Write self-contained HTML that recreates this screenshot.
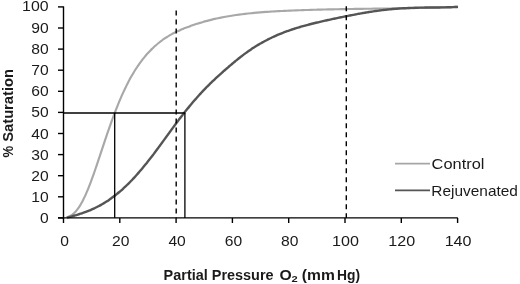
<!DOCTYPE html><html><head><meta charset="utf-8"><title>Oxygen dissociation curve</title>
<style>html,body{margin:0;padding:0;background:#fff}svg{display:block}text{font-family:"Liberation Sans",sans-serif;fill:#1a1a1a}</style></head><body>
<svg width="520" height="284" viewBox="0 0 520 284">
<rect width="520" height="284" fill="#fff"/>
<path d="M66.50 217.40 C66.75 217.33 67.50 217.14 68.00 216.96 C68.50 216.79 69.00 216.58 69.50 216.34 C70.00 216.10 70.50 215.83 71.00 215.52 C71.50 215.21 72.00 214.87 72.50 214.48 C73.00 214.09 73.50 213.67 74.00 213.21 C74.50 212.74 75.00 212.23 75.50 211.68 C76.00 211.14 76.50 210.54 77.00 209.91 C77.50 209.27 78.00 208.60 78.50 207.87 C79.00 207.15 79.50 206.39 80.00 205.58 C80.50 204.77 81.00 203.92 81.50 203.02 C82.00 202.13 82.50 201.19 83.00 200.21 C83.50 199.24 84.00 198.22 84.50 197.16 C85.00 196.10 85.50 195.00 86.00 193.87 C86.50 192.74 87.00 191.57 87.50 190.37 C88.00 189.17 88.50 187.93 89.00 186.66 C89.50 185.40 90.00 184.10 90.50 182.78 C91.00 181.46 91.50 180.10 92.00 178.73 C92.50 177.36 93.00 175.97 93.50 174.55 C94.00 173.14 94.50 171.70 95.00 170.26 C95.50 168.81 96.00 167.34 96.50 165.87 C97.00 164.40 97.50 162.91 98.00 161.42 C98.50 159.93 99.00 158.42 99.50 156.92 C100.00 155.41 100.50 153.90 101.00 152.40 C101.50 150.89 102.00 149.38 102.50 147.87 C103.00 146.37 103.50 144.86 104.00 143.36 C104.50 141.86 105.00 140.37 105.50 138.89 C106.00 137.40 106.50 135.92 107.00 134.46 C107.50 132.99 108.00 131.54 108.50 130.10 C109.00 128.65 109.50 127.22 110.00 125.81 C110.50 124.39 111.00 122.99 111.50 121.61 C112.00 120.22 112.50 118.85 113.00 117.50 C113.50 116.15 114.00 114.81 114.50 113.50 C115.00 112.18 115.50 110.88 116.00 109.60 C116.50 108.32 117.00 107.06 117.50 105.82 C118.00 104.58 118.50 103.35 119.00 102.15 C119.50 100.95 120.00 99.77 120.50 98.60 C121.00 97.44 121.50 96.30 122.00 95.17 C122.50 94.05 123.00 92.95 123.50 91.86 C124.00 90.78 124.50 89.72 125.00 88.67 C125.50 87.63 126.00 86.61 126.50 85.60 C127.00 84.60 127.50 83.61 128.00 82.65 C128.50 81.68 129.00 80.74 129.50 79.81 C130.00 78.88 130.50 77.97 131.00 77.08 C131.50 76.19 132.00 75.32 132.50 74.46 C133.00 73.61 133.50 72.77 134.00 71.95 C134.50 71.13 135.00 70.33 135.50 69.54 C136.00 68.76 136.50 67.99 137.00 67.23 C137.50 66.48 138.00 65.74 138.50 65.02 C139.00 64.30 139.50 63.59 140.00 62.90 C140.50 62.21 141.00 61.53 141.50 60.87 C142.00 60.21 142.50 59.56 143.00 58.93 C143.50 58.29 144.00 57.67 144.50 57.06 C145.00 56.46 145.50 55.86 146.00 55.28 C146.50 54.70 147.00 54.13 147.50 53.58 C148.00 53.02 148.50 52.47 149.00 51.94 C149.50 51.41 150.00 50.89 150.50 50.38 C151.00 49.87 151.50 49.37 152.00 48.88 C152.50 48.39 153.00 47.91 153.50 47.44 C154.00 46.98 154.50 46.52 155.00 46.07 C155.50 45.62 156.00 45.18 156.50 44.75 C157.00 44.32 157.50 43.90 158.00 43.49 C158.50 43.08 159.00 42.68 159.50 42.28 C160.00 41.89 160.50 41.50 161.00 41.12 C161.50 40.75 162.00 40.38 162.50 40.01 C163.00 39.65 163.50 39.30 164.00 38.95 C164.50 38.60 165.00 38.26 165.50 37.94 C166.00 37.61 166.50 37.29 167.00 36.98 C167.50 36.67 168.00 36.36 168.50 36.07 C169.00 35.77 169.50 35.48 170.00 35.19 C170.50 34.91 171.00 34.63 171.50 34.36 C172.00 34.09 172.50 33.82 173.00 33.56 C173.50 33.30 174.00 33.04 174.50 32.79 C175.00 32.54 175.50 32.29 176.00 32.05 C176.50 31.81 177.00 31.57 177.50 31.34 C178.00 31.10 178.50 30.87 179.00 30.65 C179.50 30.42 180.00 30.20 180.50 29.98 C181.00 29.76 181.50 29.55 182.00 29.34 C182.50 29.13 183.00 28.92 183.50 28.72 C184.00 28.51 184.50 28.31 185.00 28.11 C185.50 27.91 186.00 27.72 186.50 27.53 C187.00 27.33 187.50 27.14 188.00 26.96 C188.50 26.77 189.00 26.58 189.50 26.40 C190.00 26.22 190.50 26.04 191.00 25.86 C191.50 25.68 192.00 25.51 192.50 25.34 C193.00 25.16 193.50 24.99 194.00 24.82 C194.50 24.66 195.00 24.49 195.50 24.33 C196.00 24.16 196.50 24.00 197.00 23.84 C197.50 23.68 198.00 23.52 198.50 23.36 C199.00 23.21 199.25 23.13 200.00 22.90 C200.75 22.67 202.00 22.29 203.00 22.00 C204.00 21.71 205.00 21.42 206.00 21.15 C207.00 20.87 208.00 20.61 209.00 20.35 C210.00 20.10 211.00 19.85 212.00 19.61 C213.00 19.36 214.00 19.13 215.00 18.91 C216.00 18.68 217.00 18.46 218.00 18.25 C219.00 18.04 220.00 17.83 221.00 17.63 C222.00 17.43 223.00 17.24 224.00 17.05 C225.00 16.86 226.00 16.68 227.00 16.50 C228.00 16.33 229.00 16.16 230.00 15.99 C231.00 15.82 232.00 15.66 233.00 15.51 C234.00 15.35 235.00 15.20 236.00 15.06 C237.00 14.91 238.00 14.77 239.00 14.63 C240.00 14.50 241.00 14.37 242.00 14.24 C243.00 14.11 244.00 13.99 245.00 13.87 C246.00 13.75 247.00 13.64 248.00 13.53 C249.00 13.42 250.00 13.31 251.00 13.21 C252.00 13.10 253.00 13.00 254.00 12.91 C255.00 12.81 256.00 12.72 257.00 12.63 C258.00 12.54 259.00 12.46 260.00 12.38 C261.00 12.29 262.00 12.21 263.00 12.14 C264.00 12.06 265.00 11.99 266.00 11.92 C267.00 11.85 268.00 11.78 269.00 11.71 C270.00 11.65 271.00 11.58 272.00 11.52 C273.00 11.46 274.00 11.40 275.00 11.34 C276.00 11.29 277.00 11.23 278.00 11.18 C279.00 11.13 280.00 11.07 281.00 11.02 C282.00 10.97 283.00 10.93 284.00 10.88 C285.00 10.83 286.00 10.79 287.00 10.74 C288.00 10.70 289.00 10.66 290.00 10.61 C291.00 10.57 292.00 10.53 293.00 10.49 C294.00 10.45 295.00 10.41 296.00 10.37 C297.00 10.33 298.00 10.29 299.00 10.26 C300.00 10.22 301.00 10.19 302.00 10.15 C303.00 10.12 304.00 10.08 305.00 10.05 C306.00 10.02 307.00 9.98 308.00 9.95 C309.00 9.92 310.00 9.89 311.00 9.86 C312.00 9.83 313.00 9.80 314.00 9.77 C315.00 9.75 316.00 9.72 317.00 9.69 C318.00 9.67 319.00 9.64 320.00 9.61 C321.00 9.59 322.00 9.56 323.00 9.54 C324.00 9.52 325.00 9.49 326.00 9.47 C327.00 9.45 328.00 9.42 329.00 9.40 C330.00 9.38 331.00 9.36 332.00 9.34 C333.00 9.32 334.00 9.30 335.00 9.28 C336.00 9.26 337.00 9.24 338.00 9.22 C339.00 9.20 340.00 9.18 341.00 9.17 C342.00 9.15 343.00 9.13 344.00 9.11 C345.00 9.10 346.00 9.08 347.00 9.06 C348.00 9.05 349.00 9.03 350.00 9.02 C351.00 9.00 352.00 8.98 353.00 8.97 C354.00 8.95 355.00 8.94 356.00 8.92 C357.00 8.91 358.00 8.90 359.00 8.88 C360.00 8.87 361.00 8.85 362.00 8.84 C363.00 8.82 364.00 8.81 365.00 8.80 C366.00 8.78 367.00 8.77 368.00 8.76 C369.00 8.74 370.00 8.73 371.00 8.72 C372.00 8.70 373.00 8.69 374.00 8.68 C375.00 8.66 376.00 8.65 377.00 8.64 C378.00 8.62 379.00 8.61 380.00 8.60 C381.00 8.59 382.00 8.57 383.00 8.56 C384.00 8.54 385.00 8.53 386.00 8.52 C387.00 8.50 388.00 8.49 389.00 8.48 C390.00 8.46 391.00 8.45 392.00 8.43 C393.00 8.42 394.00 8.41 395.00 8.39 C396.00 8.38 397.00 8.36 398.00 8.35 C399.00 8.33 400.00 8.31 401.00 8.30 C402.00 8.28 403.00 8.27 404.00 8.25 C405.00 8.23 406.00 8.22 407.00 8.20 C408.00 8.18 409.00 8.16 410.00 8.15 C411.00 8.13 412.00 8.11 413.00 8.09 C414.00 8.07 415.00 8.05 416.00 8.03 C417.00 8.01 418.00 7.99 419.00 7.97 C420.00 7.95 421.00 7.93 422.00 7.91 C423.00 7.89 424.00 7.86 425.00 7.84 C426.00 7.82 427.00 7.79 428.00 7.77 C429.00 7.74 430.00 7.72 431.00 7.69 C432.00 7.67 433.00 7.64 434.00 7.61 C435.00 7.59 436.00 7.56 437.00 7.53 C438.00 7.50 439.00 7.47 440.00 7.44 C441.00 7.41 442.00 7.38 443.00 7.35 C444.00 7.32 445.00 7.29 446.00 7.25 C447.00 7.22 448.00 7.18 449.00 7.15 C450.00 7.11 451.00 7.08 452.00 7.04 C453.00 7.00 454.00 6.97 455.00 6.93 C456.00 6.89 457.50 6.83 458.00 6.81" fill="none" stroke="#a8a8a8" stroke-width="2.15" stroke-linejoin="round"/>
<path d="M67.00 217.65 C67.33 217.56 68.33 217.29 69.00 217.11 C69.67 216.93 70.33 216.75 71.00 216.57 C71.67 216.39 72.33 216.20 73.00 216.02 C73.67 215.83 74.33 215.64 75.00 215.45 C75.67 215.25 76.33 215.06 77.00 214.85 C77.67 214.65 78.33 214.45 79.00 214.24 C79.67 214.03 80.33 213.81 81.00 213.59 C81.67 213.37 82.33 213.15 83.00 212.92 C83.67 212.68 84.33 212.45 85.00 212.20 C85.67 211.96 86.33 211.71 87.00 211.45 C87.67 211.19 88.33 210.93 89.00 210.66 C89.67 210.39 90.33 210.11 91.00 209.82 C91.67 209.53 92.33 209.24 93.00 208.94 C93.67 208.63 94.33 208.32 95.00 208.00 C95.67 207.68 96.33 207.35 97.00 207.01 C97.67 206.68 98.33 206.33 99.00 205.97 C99.67 205.62 100.33 205.25 101.00 204.88 C101.67 204.50 102.33 204.12 103.00 203.72 C103.67 203.33 104.33 202.93 105.00 202.51 C105.67 202.10 106.33 201.67 107.00 201.24 C107.67 200.80 108.33 200.36 109.00 199.90 C109.67 199.45 110.33 198.98 111.00 198.50 C111.67 198.03 112.33 197.54 113.00 197.04 C113.67 196.55 114.33 196.04 115.00 195.52 C115.67 195.00 116.33 194.47 117.00 193.93 C117.67 193.39 118.33 192.84 119.00 192.27 C119.67 191.71 120.33 191.14 121.00 190.56 C121.67 189.97 122.33 189.38 123.00 188.77 C123.67 188.17 124.33 187.55 125.00 186.92 C125.67 186.30 126.33 185.66 127.00 185.01 C127.67 184.36 128.33 183.71 129.00 183.04 C129.67 182.37 130.33 181.69 131.00 181.00 C131.67 180.31 132.33 179.61 133.00 178.90 C133.67 178.19 134.33 177.47 135.00 176.74 C135.67 176.01 136.33 175.28 137.00 174.53 C137.67 173.78 138.33 173.02 139.00 172.25 C139.67 171.49 140.33 170.71 141.00 169.92 C141.67 169.14 142.33 168.34 143.00 167.54 C143.67 166.74 144.33 165.93 145.00 165.11 C145.67 164.29 146.33 163.46 147.00 162.63 C147.67 161.79 148.33 160.95 149.00 160.10 C149.67 159.25 150.33 158.39 151.00 157.53 C151.67 156.66 152.33 155.79 153.00 154.91 C153.67 154.04 154.33 153.15 155.00 152.27 C155.67 151.38 156.33 150.48 157.00 149.58 C157.67 148.68 158.33 147.78 159.00 146.87 C159.67 145.96 160.33 145.05 161.00 144.14 C161.67 143.22 162.33 142.30 163.00 141.38 C163.67 140.47 164.33 139.54 165.00 138.62 C165.67 137.70 166.33 136.78 167.00 135.86 C167.67 134.94 168.33 134.02 169.00 133.10 C169.67 132.19 170.33 131.27 171.00 130.36 C171.67 129.45 172.33 128.54 173.00 127.63 C173.67 126.72 174.33 125.82 175.00 124.92 C175.67 124.02 176.33 123.13 177.00 122.24 C177.67 121.35 178.33 120.47 179.00 119.59 C179.67 118.71 180.33 117.84 181.00 116.97 C181.67 116.10 182.33 115.24 183.00 114.38 C183.67 113.53 184.33 112.68 185.00 111.84 C185.67 111.00 186.33 110.16 187.00 109.33 C187.67 108.50 188.33 107.68 189.00 106.87 C189.67 106.05 190.33 105.25 191.00 104.45 C191.67 103.65 192.33 102.86 193.00 102.08 C193.67 101.29 194.33 100.52 195.00 99.75 C195.67 98.98 196.33 98.22 197.00 97.47 C197.67 96.72 198.33 95.98 199.00 95.24 C199.67 94.50 200.33 93.78 201.00 93.06 C201.67 92.34 202.33 91.62 203.00 90.92 C203.67 90.21 204.33 89.52 205.00 88.83 C205.67 88.14 206.33 87.46 207.00 86.78 C207.67 86.11 208.33 85.44 209.00 84.78 C209.67 84.12 210.33 83.47 211.00 82.82 C211.67 82.17 212.33 81.53 213.00 80.90 C213.67 80.26 214.33 79.64 215.00 79.01 C215.67 78.39 216.33 77.77 217.00 77.16 C217.67 76.55 218.33 75.94 219.00 75.34 C219.67 74.73 220.33 74.13 221.00 73.54 C221.67 72.94 222.33 72.35 223.00 71.76 C223.67 71.17 224.33 70.58 225.00 70.00 C225.67 69.42 226.33 68.83 227.00 68.25 C227.67 67.68 228.33 67.10 229.00 66.52 C229.67 65.95 230.33 65.38 231.00 64.81 C231.67 64.24 232.33 63.68 233.00 63.12 C233.67 62.56 234.33 62.00 235.00 61.45 C235.67 60.90 236.33 60.35 237.00 59.81 C237.67 59.27 238.33 58.74 239.00 58.21 C239.67 57.68 240.33 57.16 241.00 56.64 C241.67 56.13 242.33 55.62 243.00 55.12 C243.67 54.61 244.33 54.12 245.00 53.63 C245.67 53.14 246.33 52.66 247.00 52.19 C247.67 51.71 248.33 51.25 249.00 50.79 C249.67 50.33 250.33 49.87 251.00 49.43 C251.67 48.98 252.33 48.54 253.00 48.11 C253.67 47.67 254.33 47.25 255.00 46.83 C255.67 46.41 256.33 46.00 257.00 45.59 C257.67 45.18 258.33 44.78 259.00 44.39 C259.67 44.00 260.33 43.61 261.00 43.23 C261.67 42.85 262.33 42.47 263.00 42.10 C263.67 41.74 264.33 41.37 265.00 41.02 C265.67 40.66 266.33 40.31 267.00 39.97 C267.67 39.62 268.33 39.28 269.00 38.95 C269.67 38.62 270.33 38.29 271.00 37.97 C271.67 37.65 272.33 37.33 273.00 37.02 C273.67 36.71 274.33 36.40 275.00 36.10 C275.67 35.80 276.33 35.51 277.00 35.22 C277.67 34.93 278.33 34.65 279.00 34.37 C279.67 34.09 280.33 33.81 281.00 33.54 C281.67 33.27 282.33 33.01 283.00 32.75 C283.67 32.49 284.33 32.23 285.00 31.98 C285.67 31.73 286.33 31.48 287.00 31.24 C287.67 31.00 288.33 30.76 289.00 30.53 C289.67 30.29 290.33 30.06 291.00 29.83 C291.67 29.61 292.33 29.39 293.00 29.17 C293.67 28.95 294.33 28.73 295.00 28.52 C295.67 28.31 296.33 28.10 297.00 27.90 C297.67 27.69 298.33 27.49 299.00 27.29 C299.67 27.10 300.33 26.90 301.00 26.71 C301.67 26.52 302.33 26.33 303.00 26.14 C303.67 25.95 304.33 25.77 305.00 25.59 C305.67 25.41 306.33 25.23 307.00 25.05 C307.67 24.87 308.33 24.70 309.00 24.52 C309.67 24.35 310.33 24.18 311.00 24.01 C311.67 23.84 312.33 23.68 313.00 23.51 C313.67 23.35 314.33 23.18 315.00 23.02 C315.67 22.86 316.33 22.70 317.00 22.54 C317.67 22.38 318.33 22.22 319.00 22.07 C319.67 21.91 320.33 21.76 321.00 21.60 C321.67 21.45 322.33 21.30 323.00 21.15 C323.67 20.99 324.33 20.84 325.00 20.69 C325.67 20.54 326.33 20.40 327.00 20.25 C327.67 20.10 328.33 19.96 329.00 19.81 C329.67 19.66 330.33 19.52 331.00 19.38 C331.67 19.23 332.33 19.09 333.00 18.95 C333.67 18.80 334.33 18.66 335.00 18.52 C335.67 18.38 336.33 18.24 337.00 18.10 C337.67 17.96 338.33 17.82 339.00 17.68 C339.67 17.54 340.33 17.41 341.00 17.27 C341.67 17.13 342.33 17.00 343.00 16.86 C343.67 16.73 344.33 16.59 345.00 16.46 C345.67 16.32 346.33 16.19 347.00 16.06 C347.67 15.92 348.33 15.79 349.00 15.66 C349.67 15.53 350.33 15.40 351.00 15.27 C351.67 15.14 352.33 15.01 353.00 14.88 C353.67 14.76 354.33 14.63 355.00 14.50 C355.67 14.38 356.33 14.25 357.00 14.13 C357.67 14.00 358.33 13.88 359.00 13.76 C359.67 13.64 360.33 13.52 361.00 13.40 C361.67 13.28 362.33 13.16 363.00 13.05 C363.67 12.93 364.33 12.82 365.00 12.70 C365.67 12.59 366.33 12.48 367.00 12.37 C367.67 12.26 368.33 12.15 369.00 12.04 C369.67 11.94 370.33 11.83 371.00 11.73 C371.67 11.62 372.33 11.52 373.00 11.42 C373.67 11.32 374.33 11.22 375.00 11.13 C375.67 11.03 376.33 10.94 377.00 10.85 C377.67 10.75 378.33 10.66 379.00 10.58 C379.67 10.49 380.33 10.40 381.00 10.32 C381.67 10.23 382.33 10.15 383.00 10.07 C383.67 9.99 384.33 9.91 385.00 9.84 C385.67 9.76 386.33 9.69 387.00 9.62 C387.67 9.55 388.33 9.48 389.00 9.41 C389.67 9.34 390.33 9.27 391.00 9.21 C391.67 9.15 392.33 9.09 393.00 9.03 C393.67 8.97 394.33 8.91 395.00 8.86 C395.67 8.80 396.33 8.75 397.00 8.70 C397.67 8.65 398.33 8.60 399.00 8.55 C399.67 8.50 400.33 8.46 401.00 8.42 C401.67 8.37 402.33 8.33 403.00 8.29 C403.67 8.25 404.33 8.22 405.00 8.18 C405.67 8.14 406.33 8.11 407.00 8.08 C407.67 8.05 408.33 8.02 409.00 7.99 C409.67 7.96 410.33 7.93 411.00 7.91 C411.67 7.88 412.33 7.86 413.00 7.84 C413.67 7.81 414.33 7.79 415.00 7.77 C415.67 7.75 416.33 7.74 417.00 7.72 C417.67 7.70 418.33 7.69 419.00 7.67 C419.67 7.66 420.33 7.64 421.00 7.63 C421.67 7.62 422.33 7.61 423.00 7.60 C423.67 7.59 424.33 7.58 425.00 7.57 C425.67 7.56 426.33 7.55 427.00 7.55 C427.67 7.54 428.33 7.53 429.00 7.53 C429.67 7.52 430.33 7.51 431.00 7.51 C431.67 7.50 432.33 7.50 433.00 7.49 C433.67 7.49 434.33 7.48 435.00 7.48 C435.67 7.47 436.33 7.47 437.00 7.46 C437.67 7.45 438.33 7.45 439.00 7.44 C439.67 7.43 440.33 7.43 441.00 7.42 C441.67 7.41 442.33 7.40 443.00 7.39 C443.67 7.38 444.33 7.37 445.00 7.36 C445.67 7.35 446.33 7.34 447.00 7.32 C447.67 7.31 448.33 7.29 449.00 7.28 C449.67 7.26 450.33 7.24 451.00 7.22 C451.67 7.20 452.33 7.18 453.00 7.15 C453.67 7.13 454.33 7.10 455.00 7.07 C455.67 7.04 456.50 7.00 457.00 6.98 C457.50 6.95 457.83 6.93 458.00 6.92" fill="none" stroke="#555" stroke-width="2.4" stroke-linejoin="round"/>
<g stroke="#000" stroke-width="1.4" fill="none">
<path d="M63.5 6.4V218.4"/>
<path d="M58 217.9H457.8"/>
<path d="M58 217.90H63.5"/>
<path d="M58 196.80H63.5"/>
<path d="M58 175.70H63.5"/>
<path d="M58 154.60H63.5"/>
<path d="M58 133.50H63.5"/>
<path d="M58 112.40H63.5"/>
<path d="M58 91.30H63.5"/>
<path d="M58 70.20H63.5"/>
<path d="M58 49.10H63.5"/>
<path d="M58 28.00H63.5"/>
<path d="M58 6.90H63.5"/>
<path d="M63.50 217.9V223"/>
<path d="M119.80 217.9V223"/>
<path d="M176.10 217.9V223"/>
<path d="M232.40 217.9V223"/>
<path d="M288.70 217.9V223"/>
<path d="M345.00 217.9V223"/>
<path d="M401.30 217.9V223"/>
<path d="M457.60 217.9V223"/>
</g>
<g stroke="#000" stroke-width="1.3" fill="none">
<path d="M63.5 113H185.2"/>
<path d="M114.7 113V217.9"/>
<path d="M184.9 113V217.9"/>
</g>
<g stroke="#000" stroke-width="1.4" fill="none" stroke-dasharray="5 4">
<path d="M176.2 10.6V217.9"/>
<path d="M346.3 6.2V217.9"/>
</g>
<text x="48.6" y="223.30" font-size="14.4" text-anchor="end" textLength="8.7" lengthAdjust="spacingAndGlyphs">0</text>
<text x="48.6" y="202.10" font-size="14.4" text-anchor="end" textLength="17.4" lengthAdjust="spacingAndGlyphs">10</text>
<text x="48.6" y="180.90" font-size="14.4" text-anchor="end" textLength="17.4" lengthAdjust="spacingAndGlyphs">20</text>
<text x="48.6" y="159.70" font-size="14.4" text-anchor="end" textLength="17.4" lengthAdjust="spacingAndGlyphs">30</text>
<text x="48.6" y="138.50" font-size="14.4" text-anchor="end" textLength="17.4" lengthAdjust="spacingAndGlyphs">40</text>
<text x="48.6" y="117.30" font-size="14.4" text-anchor="end" textLength="17.4" lengthAdjust="spacingAndGlyphs">50</text>
<text x="48.6" y="96.10" font-size="14.4" text-anchor="end" textLength="17.4" lengthAdjust="spacingAndGlyphs">60</text>
<text x="48.6" y="74.90" font-size="14.4" text-anchor="end" textLength="17.4" lengthAdjust="spacingAndGlyphs">70</text>
<text x="48.6" y="53.70" font-size="14.4" text-anchor="end" textLength="17.4" lengthAdjust="spacingAndGlyphs">80</text>
<text x="48.6" y="32.50" font-size="14.4" text-anchor="end" textLength="17.4" lengthAdjust="spacingAndGlyphs">90</text>
<text x="48.6" y="11.30" font-size="14.4" text-anchor="end" textLength="26.5" lengthAdjust="spacingAndGlyphs">100</text>
<text x="64.50" y="245.7" font-size="14.4" text-anchor="middle" textLength="8.7" lengthAdjust="spacingAndGlyphs">0</text>
<text x="120.80" y="245.7" font-size="14.4" text-anchor="middle" textLength="17.4" lengthAdjust="spacingAndGlyphs">20</text>
<text x="177.10" y="245.7" font-size="14.4" text-anchor="middle" textLength="17.4" lengthAdjust="spacingAndGlyphs">40</text>
<text x="233.40" y="245.7" font-size="14.4" text-anchor="middle" textLength="17.4" lengthAdjust="spacingAndGlyphs">60</text>
<text x="289.70" y="245.7" font-size="14.4" text-anchor="middle" textLength="17.4" lengthAdjust="spacingAndGlyphs">80</text>
<text x="345.50" y="245.7" font-size="14.4" text-anchor="middle" textLength="26.9" lengthAdjust="spacingAndGlyphs">100</text>
<text x="401.80" y="245.7" font-size="14.4" text-anchor="middle" textLength="26.9" lengthAdjust="spacingAndGlyphs">120</text>
<text x="458.10" y="245.7" font-size="14.4" text-anchor="middle" textLength="26.9" lengthAdjust="spacingAndGlyphs">140</text>
<text y="279.7" font-size="14" font-weight="bold"><tspan x="163.6" textLength="110" lengthAdjust="spacingAndGlyphs">Partial Pressure</tspan> <tspan x="279.4" textLength="12.2" lengthAdjust="spacingAndGlyphs">O</tspan><tspan x="291.5" dy="2.6" font-size="9.5" textLength="6.2" lengthAdjust="spacingAndGlyphs">2</tspan> <tspan x="301.8" dy="-2.6" textLength="33" lengthAdjust="spacingAndGlyphs">(mm</tspan> <tspan x="337" textLength="23" lengthAdjust="spacingAndGlyphs">Hg)</tspan></text>
<text transform="translate(12.6 157) rotate(-90)" font-size="14" font-weight="bold"><tspan x="-0.4" textLength="11.6" lengthAdjust="spacingAndGlyphs">%</tspan> <tspan x="15.3" textLength="72.6" lengthAdjust="spacingAndGlyphs">Saturation</tspan></text>
<path d="M395 163.7H430" stroke="#a6a6a6" stroke-width="1.8"/>
<path d="M395 190.3H430" stroke="#555" stroke-width="1.8"/>
<text x="431.6" y="168.8" font-size="14.4" textLength="52.8" lengthAdjust="spacingAndGlyphs">Control</text>
<text x="431.3" y="195.8" font-size="14.4" textLength="86.6" lengthAdjust="spacingAndGlyphs">Rejuvenated</text>
</svg></body></html>
